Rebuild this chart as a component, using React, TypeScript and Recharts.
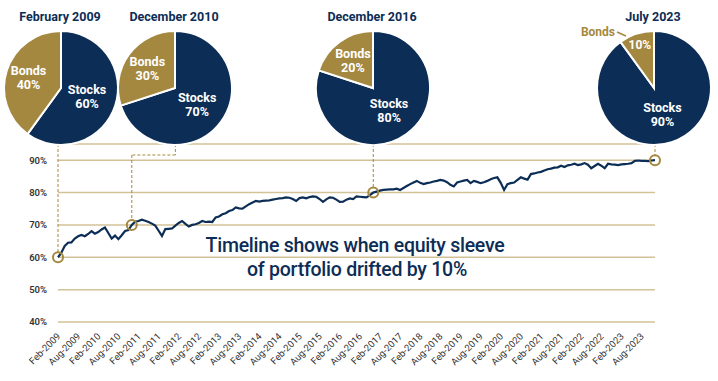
import React from "react";
import {
  LineChart,
  Line,
  XAxis,
  YAxis,
  CartesianGrid,
  ReferenceDot,
  ReferenceLine,
  PieChart,
  Pie,
  Cell,
} from "recharts";

const NAVY = "#0c2d55";
const GOLD = "#a5883f";
const GRID = "#d2c297";
const FONT = "Roboto, 'Liberation Sans', sans-serif";

// equity share of the portfolio, monthly from Feb-2009
const stockShare = [
  60.0, 61.4, 63.5, 64.5, 64.6, 65.8, 66.5, 66.9, 66.5, 67.2, 68.1, 67.3,
  67.8, 68.6, 69.2, 67.5, 65.8, 66.7, 65.6, 66.8, 68.1, 68.4, 70.0, 71.0,
  71.2, 71.6, 71.3, 70.9, 70.4, 69.8, 68.2, 66.6, 68.7, 68.8, 68.9, 69.8,
  70.6, 71.2, 70.3, 69.5, 70.0, 70.2, 70.6, 71.2, 70.9, 71.0, 70.9, 72.3,
  72.6, 73.3, 73.6, 74.3, 74.6, 75.4, 75.1, 75.0, 75.7, 76.4, 76.9, 77.4,
  77.2, 77.4, 77.5, 77.6, 77.8, 78.0, 78.2, 78.3, 78.5, 78.4, 78.0, 77.4,
  78.3, 78.5, 78.2, 78.6, 78.8, 78.7, 78.0, 77.1, 77.9, 78.5, 78.4, 77.8,
  77.1, 77.2, 77.8, 78.2, 78.0, 78.8, 78.7, 78.6, 78.5, 79.2, 80.0, 80.3,
  80.6, 80.8, 80.9, 81.0, 81.0, 81.2, 80.8, 81.4, 82.0, 82.6, 83.1, 83.6,
  83.0, 82.6, 82.9, 83.1, 83.4, 83.6, 83.9, 83.7, 83.2, 82.4, 81.9, 83.1,
  83.4, 83.7, 83.9, 82.9, 83.6, 83.3, 82.9, 83.2, 83.6, 84.1, 84.5, 84.7,
  83.0, 80.8, 82.6, 82.9, 83.1, 83.9, 84.7, 84.3, 84.0, 85.7, 85.9, 86.2,
  86.4, 86.8, 87.2, 87.4, 87.7, 87.8, 88.3, 87.9, 88.4, 88.6, 88.9, 88.5,
  88.7, 89.1, 88.6, 87.5, 88.2, 88.9, 88.3, 87.5, 88.9, 88.7, 88.6, 88.5,
  88.7, 88.8, 88.9, 89.1, 89.8, 89.9, 89.8, 89.8, 89.7, 89.9, 90.0,
];

const monthNames = ["Jan", "Feb", "Mar", "Apr", "May", "Jun", "Jul", "Aug", "Sep", "Oct", "Nov", "Dec"];
const months = stockShare.map((_, i) => {
  const m = 1 + i;
  return `${monthNames[m % 12]}-${2009 + Math.floor(m / 12)}`;
});
const data = stockShare.map((v, i) => ({ idx: i, month: months[i], stocks: v }));

const xTicks = months.map((_, i) => i).filter((i) => i % 6 === 0);
const yTicks = [40, 50, 60, 70, 80, 90];

// the four snapshots
const pieTitles = ["February 2009", "December 2010", "December 2016", "July 2023"];
const stockSlices = [60, 70, 80, 90];
const bondSlices = [40, 30, 20, 10];
const markerMonths = ["Feb-2009", "Dec-2010", "Dec-2016", "Dec-2023"];
const pieCx = [61, 175, 373, 654];
const PIE_CY = 88;
const PIE_R = 57;

const RAD = Math.PI / 180;

const renderSliceLabel = (props: any) => {
  const { cx, cy, midAngle, outerRadius, name, value } = props;
  const isBonds = name === "Bonds";
  const small = value <= 10;
  const r = outerRadius * (isBonds ? (small ? 0.8 : 0.6) : 0.48);
  const x = cx + r * Math.cos(-midAngle * RAD);
  const y = cy + r * Math.sin(-midAngle * RAD);
  if (small) {
    return (
      <g>
        <text x={x} y={y + 4} textAnchor="middle" fill="#fff" fontSize={12} fontWeight={700} fontFamily={FONT}>
          {value}%
        </text>
        <text x={cx - 39} y={cy - 52} textAnchor="end" fill={GOLD} fontSize={12} fontWeight={700} fontFamily={FONT}>
          {name}
        </text>
        <line x1={cx - 37} y1={cy - 56} x2={cx - 28} y2={cy - 52} stroke={GOLD} strokeWidth={1.5} />
      </g>
    );
  }
  return (
    <text x={x} y={y} textAnchor="middle" fill="#fff" fontSize={12.5} fontWeight={700} fontFamily={FONT}>
      <tspan x={x} dy={-2}>{name}</tspan>
      <tspan x={x} dy={14}>{value}%</tspan>
    </text>
  );
};

const XTick = ({ x, y, payload }: any) => {
  const ax = x + 3;
  const ay = y + 7;
  return (
    <text
      x={ax}
      y={ay}
      transform={`rotate(-45 ${ax} ${ay})`}
      textAnchor="end"
      fontSize={9.5}
      fill="#333"
      fontFamily={FONT}
    >
      {months[payload.value]}
    </text>
  );
};

export default function App() {
  const markers = markerMonths.map((m) => {
    const i = months.indexOf(m);
    return { idx: i, value: stockShare[i] };
  });
  const TOP = 95;
  const DOT_R = 5;
  const rUnits = 1.5;

  return (
    <div style={{ position: "absolute", left: 0, top: 0, width: 718, height: 381, background: "#fff", fontFamily: FONT }}>
      <LineChart
        width={718}
        height={381}
        data={data}
        margin={{ top: 144, right: 63, bottom: 0, left: 0 }}
        style={{ position: "absolute", left: 0, top: 0 }}
      >
        <CartesianGrid vertical={false} stroke={GRID} strokeWidth={1.5} />
        <XAxis
          type="number"
          dataKey="idx"
          domain={[0, months.length - 1]}
          ticks={xTicks}
          interval={0}
          height={59}
          axisLine={false}
          tickLine={false}
          tick={<XTick />}
        />
        <YAxis
          type="number"
          domain={[40, TOP]}
          ticks={yTicks}
          width={58}
          axisLine={false}
          tickLine={false}
          tickSize={9}
          tickMargin={2}
          tickFormatter={(v: number) => `${v}%`}
          tick={{ fontSize: 9.5, fill: "#333", fontWeight: 600, fontFamily: FONT }}
        />
        {/* connectors from pies down to the drift points */}
        <ReferenceLine
          segment={[{ x: markers[0].idx, y: TOP }, { x: markers[0].idx, y: markers[0].value + rUnits }]}
          stroke={GOLD}
          strokeDasharray="3 2"
          strokeWidth={1}
        />
        <ReferenceLine
          segment={[{ x: 35, y: TOP }, { x: 35, y: 91.6 }]}
          stroke={GOLD}
          strokeDasharray="3 2"
          strokeWidth={1}
        />
        <ReferenceLine
          segment={[{ x: 35, y: 91.6 }, { x: markers[1].idx, y: 91.6 }]}
          stroke={GOLD}
          strokeDasharray="3 2"
          strokeWidth={1}
        />
        <ReferenceLine
          segment={[{ x: markers[1].idx, y: 91.6 }, { x: markers[1].idx, y: markers[1].value + rUnits }]}
          stroke={GOLD}
          strokeDasharray="3 2"
          strokeWidth={1}
        />
        <ReferenceLine
          segment={[{ x: markers[2].idx, y: TOP }, { x: markers[2].idx, y: markers[2].value + rUnits }]}
          stroke={GOLD}
          strokeDasharray="3 2"
          strokeWidth={1}
        />
        <ReferenceLine
          segment={[{ x: markers[3].idx, y: TOP }, { x: markers[3].idx, y: markers[3].value + rUnits }]}
          stroke={GOLD}
          strokeDasharray="3 2"
          strokeWidth={1}
        />
        <Line
          type="linear"
          dataKey="stocks"
          stroke={NAVY}
          strokeWidth={2.2}
          dot={false}
          isAnimationActive={false}
        />
        {markers.map((m) => (
          <ReferenceDot
            key={m.idx}
            x={m.idx}
            y={m.value}
            r={DOT_R}
            fill="none"
            stroke={GOLD}
            strokeWidth={2}
          />
        ))}
      </LineChart>

      <PieChart
        width={718}
        height={150}
        margin={{ top: 0, right: 0, bottom: 0, left: 0 }}
        style={{ position: "absolute", left: 0, top: 0 }}
      >
        {pieTitles.map((t, k) => (
          <Pie
            key={t}
            data={[
              { name: "Stocks", value: stockSlices[k] },
              { name: "Bonds", value: bondSlices[k] },
            ]}
            dataKey="value"
            cx={pieCx[k]}
            cy={PIE_CY}
            outerRadius={PIE_R}
            startAngle={90}
            endAngle={-270}
            stroke="#fff"
            strokeWidth={2}
            label={renderSliceLabel}
            labelLine={false}
            isAnimationActive={false}
          >
            <Cell fill={NAVY} />
            <Cell fill={GOLD} />
          </Pie>
        ))}
      </PieChart>

      <svg width={718} height={381} style={{ position: "absolute", left: 0, top: 0, pointerEvents: "none" }}>
        {pieTitles.map((t, k) => (
          <text key={t} x={pieCx[k] - 1} y={21} textAnchor="middle" fill={NAVY} fontSize={12.5} fontWeight={700} fontFamily={FONT}>
            {t}
          </text>
        ))}
        <text x={355} y={252} textAnchor="middle" fill={NAVY} fontSize={19.5} letterSpacing={-0.25} fontWeight={500} fontFamily={FONT}>
          Timeline shows when equity sleeve
        </text>
        <text x={357} y={276} textAnchor="middle" fill={NAVY} fontSize={19.5} letterSpacing={-0.25} fontWeight={500} fontFamily={FONT}>
          of portfolio drifted by 10%
        </text>
      </svg>
    </div>
  );
}
